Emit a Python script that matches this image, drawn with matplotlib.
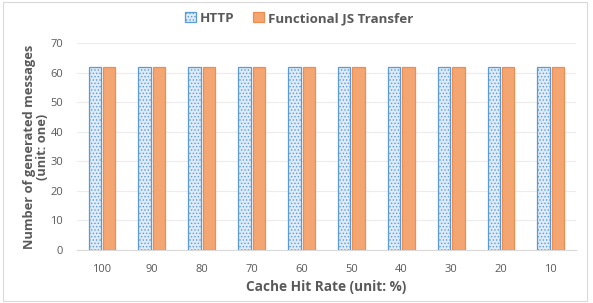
import numpy as np
import matplotlib
matplotlib.use('Agg')
import matplotlib.pyplot as plt

categories = ['100', '90', '80', '70', '60', '50', '40', '30', '20', '10']
http_vals = [62, 62, 62, 62, 62, 62, 62, 62, 62, 62]
fjs_vals = [62, 62, 62, 62, 62, 62, 62, 62, 62, 62]

plt.rcParams['font.family'] = ['Open Sans', 'DejaVu Sans']
plt.rcParams['hatch.linewidth'] = 0.6
plt.rcParams['hatch.color'] = '#9dc3e6'

fig = plt.figure(figsize=(5.93, 3.03), dpi=100)
ax = fig.add_axes([0.13, 0.175, 0.841, 0.683])

x = np.arange(len(categories))
w = 0.25
gap = 0.04
ax.bar(x - w / 2 - gap / 2, http_vals, w, color='#deebf7', edgecolor='#5b9bd5',
       hatch='.....', linewidth=0.9, label='HTTP', zorder=3)
ax.bar(x + w / 2 + gap / 2, fjs_vals, w, color='#f4a672', edgecolor='#ed8d4f',
       linewidth=0.9, label='Functional JS Transfer', zorder=3)

ax.set_ylim(0, 70)
ax.set_yticks(range(0, 71, 10))
ax.set_xlim(-0.5, len(categories) - 0.5)
ax.set_xticks(x)
ax.set_xticklabels(categories)
ax.grid(axis='y', color='#ececec', linewidth=0.8, zorder=0)
for s in ax.spines.values():
    s.set_visible(False)
ax.spines['bottom'].set_visible(True)
ax.spines['bottom'].set_color('#d9d9d9')
ax.tick_params(length=0, colors='#595959', labelsize=8, pad=10)

ax.set_xlabel('Cache Hit Rate (unit: %)', fontsize=9.8, fontweight='bold', color='#595959', labelpad=4)
ax.set_ylabel('Number of generated messages\n(unit: one)', fontsize=9.3, fontweight='bold',
              color='#595959', labelpad=1, linespacing=1.0)

leg = fig.legend(loc='upper center', bbox_to_anchor=(0.505, 1.0), ncol=2, frameon=False,
                 fontsize=9.6, handlelength=0.8, handleheight=0.8, handletextpad=0.3, columnspacing=1.4)
for t in leg.get_texts():
    t.set_fontweight('bold')
    t.set_color('#595959')

fig.patches.append(plt.Rectangle((0.005, 0.005), 0.985, 0.99, transform=fig.transFigure,
                                 fill=False, edgecolor='#d9d9d9', linewidth=0.8))

plt.savefig('out.png', dpi=100)
plt.close()
